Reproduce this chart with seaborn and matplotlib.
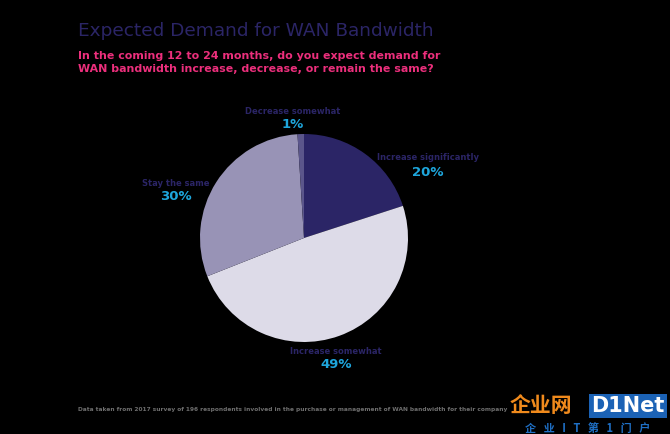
import matplotlib
matplotlib.use('Agg')
import matplotlib.pyplot as plt
import seaborn as sns

# Survey answers and shares (percent)
answers = ['Increase significantly', 'Increase somewhat', 'Stay the same', 'Decrease somewhat']
shares = [20, 49, 30, 1]
share_labels = ['20%', '49%', '30%', '1%']
wedge_colors = ['#2b2566', '#dddbe8', '#9893b6', '#5b568b']

title = 'Expected Demand for WAN Bandwidth'
subtitle = ('In the coming 12 to 24 months, do you expect demand for\n'
            'WAN bandwidth increase, decrease, or remain the same?')
footnote = ('Data taken from 2017 survey of 196 respondents involved in the purchase '
            'or management of WAN bandwidth for their company')

sns.set_theme(style='white')
plt.rcParams['font.family'] = ['DejaVu Sans', 'Noto Sans CJK SC']

fig = plt.figure(figsize=(6.7, 4.34), dpi=100, facecolor='black')

# pie axes: centre ~ (304, 238) px, radius ~104 px
ax = fig.add_axes([(304 - 104) / 670, (434 - 342) / 434, 208 / 670, 208 / 434])
ax.set_facecolor('black')
ax.pie(shares, colors=sns.color_palette(wedge_colors), startangle=90,
       counterclock=False, wedgeprops=dict(linewidth=0))
ax.set_xlim(-1, 1)
ax.set_ylim(-1, 1)
ax.set_aspect('equal')
ax.axis('off')

navy = '#2b2566'
cyan = '#1ea6dc'

fig.text(78 / 670, 1 - 31 / 434, title, color=navy, fontsize=13.3,
         va='center', ha='left')
fig.text(78 / 670, 1 - 62.5 / 434, subtitle, color='#ec2f7c', fontsize=7.9,
         fontweight='bold', va='center', ha='left', linespacing=1.45)

# slice labels (name + percent)
label_pos = {
    'Increase significantly': (428, 158),
    'Increase somewhat': (336, 351),
    'Stay the same': (176, 183),
    'Decrease somewhat': (293, 111),
}
for name, pct in zip(answers, share_labels):
    x, y = label_pos[name]
    fig.text(x / 670, 1 - y / 434, name, color=navy, fontsize=6,
             fontweight='bold', ha='center', va='center')
    fig.text(x / 670, 1 - (y + 14) / 434, pct, color=cyan, fontsize=9.5,
             fontweight='bold', ha='center', va='center')

fig.text(78 / 670, 1 - 409 / 434, footnote, color='#6e6e6e', fontsize=4.25,
         fontweight='bold', ha='left', va='center')

# watermark
fig.text(510 / 670, 1 - 406 / 434, '企业网', color='#f08a1c', fontsize=15,
         fontweight='bold', family=['Noto Sans CJK SC'], ha='left', va='center')
fig.text(628 / 670, 1 - 406 / 434, 'D1Net', color='white', fontsize=15,
         fontweight='bold', ha='center', va='center',
         bbox=dict(boxstyle='square,pad=0.1', fc='#1b62b5', ec='none'))
fig.text(588 / 670, 1 - 428 / 434, '企   业   I   T   第   1   门   户', color='#1f6fc4',
         fontsize=8, fontweight='bold', family=['Noto Sans CJK SC'],
         ha='center', va='center')

fig.savefig('out.png', dpi=100, facecolor='black')
